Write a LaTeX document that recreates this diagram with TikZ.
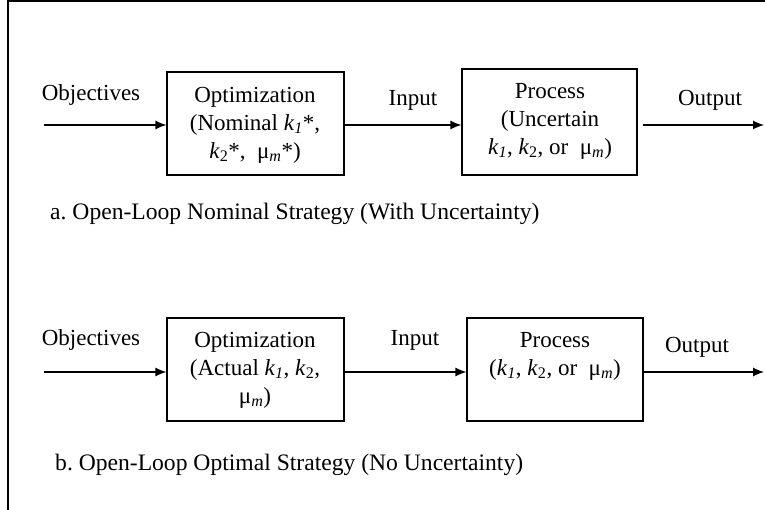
\documentclass[tikz,border=0pt]{standalone}
\usepackage{fontspec}
\setmainfont{Liberation Serif}
\usetikzlibrary{arrows.meta}
\newcommand{\kk}[1]{\textit{k}\textsubscript{#1}}
\newcommand{\mum}{μ\textsubscript{\textit{m}}}
\frenchspacing
\begin{document}
\begin{tikzpicture}[x=1pt,y=-1pt,
  font=\fontsize{23}{28}\selectfont,
  blk/.style={draw, line width=1.2pt, inner sep=0pt},
  lbl/.style={inner sep=0pt, anchor=center},
  captxt/.style={inner sep=0pt, anchor=west, font=\fontsize{23.6}{28}\selectfont},
  txt/.style={inner sep=0pt, align=center},
  arr/.style={line width=1.2pt, -{Latex[length=11pt,width=9pt]}}]
\useasboundingbox (0,0) rectangle (765,510);
\draw[line width=1.2pt] (8,510) -- (8,1) -- (765,1);

% top row
\node[blk, minimum width=177pt, minimum height=103pt] (opt1) at (255.5,123.5) {};
\node[blk, minimum width=175pt, minimum height=106pt] (proc1) at (549.5,122) {};
\node[txt] (opt1t) at (255,125) {Optimization\\(Nominal \kk{\textit{1}}*,\\\kk{2}*,\enspace\mum*)};
\node[txt] (proc1t) at (550,121) {Process\\(Uncertain\\\kk{\textit{1}}, \kk{2}, or\enspace\mum)};
\node[lbl] (obj1) at (91,95) {Objectives};
\node[lbl] (inp1) at (413,100) {Input};
\node[lbl] (out1) at (710,100) {Output};
\coordinate (s1) at (44,125);
\coordinate (o1) at (643,125);
\coordinate (e1) at (764,125);
\draw[arr] (s1) -- (s1 -| opt1.west);
\draw[arr] (opt1.east |- s1) -- (proc1.west |- s1);
\draw[arr] (o1) -- (e1);
\node[captxt] (capA) at (50,214) {a. Open-Loop Nominal Strategy (With Uncertainty)};

% bottom row
\node[blk, minimum width=177pt, minimum height=103pt] (opt2) at (255.5,369.5) {};
\node[blk, minimum width=176pt, minimum height=103pt] (proc2) at (555,369.5) {};
\node[txt] (opt2t) at (255,370) {Optimization\\(Actual \kk{\textit{1}}, \kk{2},\\\mum)};
\node[txt] (proc2t) at (555,356) {Process\\(\kk{\textit{1}}, \kk{2}, or\enspace\mum)};
\node[lbl] (obj2) at (91,340) {Objectives};
\node[lbl] (inp2) at (415,340) {Input};
\node[lbl] (out2) at (697,347) {Output};
\coordinate (s2) at (44,372);
\coordinate (e2) at (764,372);
\draw[arr] (s2) -- (s2 -| opt2.west);
\draw[arr] (opt2.east |- s2) -- (proc2.west |- s2);
\draw[arr] (proc2.east |- s2) -- (e2);
\node[captxt] (capB) at (55,465) {b. Open-Loop Optimal Strategy (No Uncertainty)};
\end{tikzpicture}
\end{document}
